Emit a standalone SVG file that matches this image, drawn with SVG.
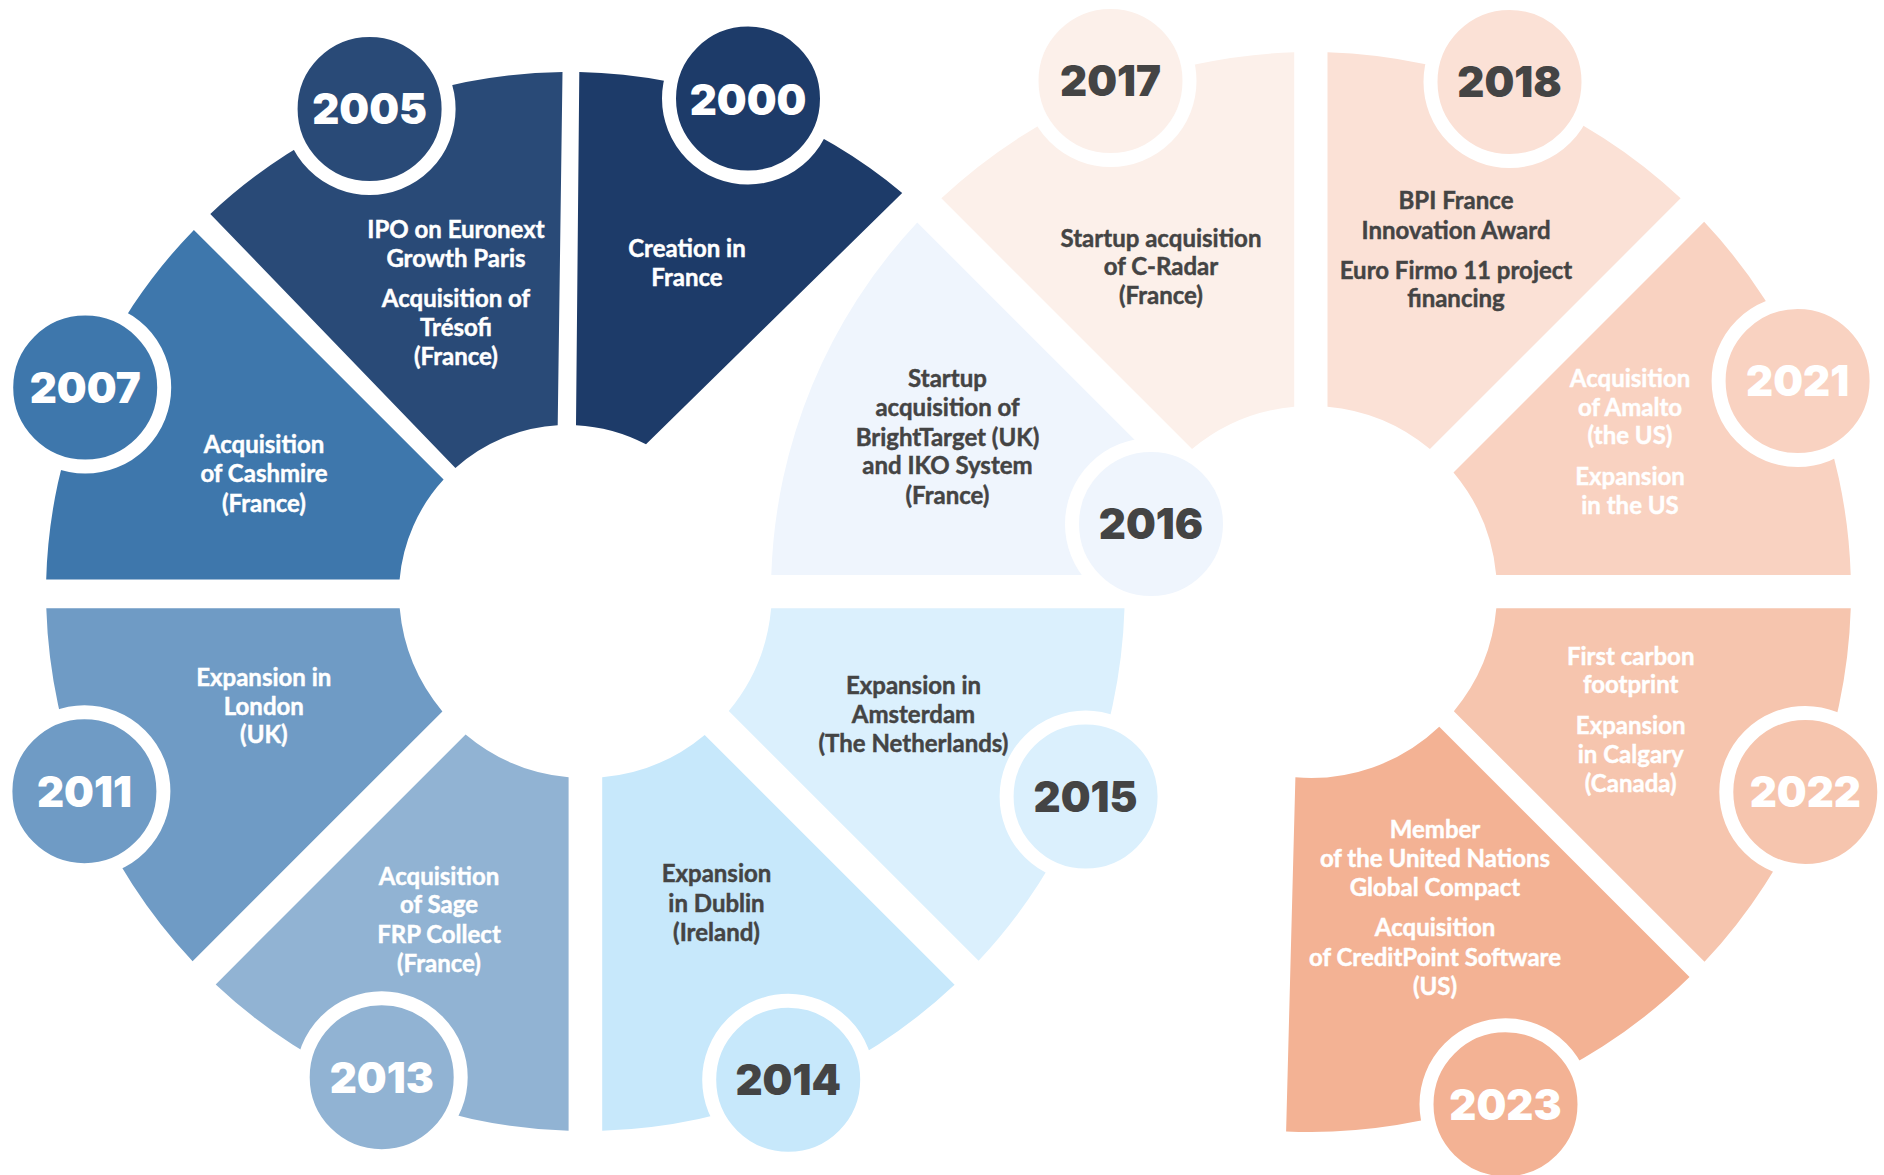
<svg xmlns="http://www.w3.org/2000/svg" width="1884" height="1175" viewBox="0 0 1884 1175">
<style>
.t{font-family:Lato,"Liberation Sans",sans-serif;font-weight:700;font-size:24px;text-anchor:middle;stroke-width:0.45px}
.y{font-family:Inter,"Liberation Sans",sans-serif;font-weight:900;font-size:42px;text-anchor:middle}
.w{fill:#ffffff}
.d{fill:#444444}
.t.w{stroke:#ffffff}
.t.d{stroke:#444444}
.b{stroke:#ffffff;stroke-width:14}
</style>
<rect width="1884" height="1175" fill="#ffffff"/>
<g id="n2000">
<path fill="#1d3b69" d="M579.3 72.1 A522 522 0 0 1 902.2 193 L646 444.3 A169 169 0 0 0 576 425.2 Z"/>
<circle class="b" fill="#1d3b69" cx="748" cy="98.6" r="79"/>
<text class="y w" x="748" y="114.6">2000</text>
<text class="t w" x="687" y="257">Creation in</text>
<text class="t w" x="687" y="286">France</text>
</g>
<g id="n2005">
<path fill="#294a77" d="M210.3 213.9 A522 522 0 0 1 562.5 72 L557.7 425.3 A169 169 0 0 0 455.4 468 Z"/>
<circle class="b" fill="#294a77" cx="369.6" cy="109" r="79"/>
<text class="y w" x="369.6" y="124">2005</text>
<text class="t w" x="456" y="238">IPO on Euronext</text>
<text class="t w" x="456" y="267">Growth Paris</text>
<text class="t w" x="456" y="306.7">Acquisition of</text>
<text class="t w" x="456" y="336">Trésofi</text>
<text class="t w" x="456" y="365">(France)</text>
</g>
<g id="n2007">
<path fill="#3e77ac" d="M46.2 579.5 A522 522 0 0 1 193.9 229.9 L443.6 479.6 A169 169 0 0 0 399.6 579.5 Z"/>
<circle class="b" fill="#3e77ac" cx="85.2" cy="387.6" r="79"/>
<text class="y w" x="85.2" y="403">2007</text>
<text class="t w" x="264" y="453.4">Acquisition</text>
<text class="t w" x="264" y="482.4">of Cashmire</text>
<text class="t w" x="264" y="512">(France)</text>
</g>
<g id="n2011">
<path fill="#6f9bc5" d="M46.3 608.3 L399.7 608.3 A186.5 186.5 0 0 0 442.4 711.4 L192.6 961.2 A539.4 539.4 0 0 1 46.3 608.3 Z"/>
<circle class="b" fill="#6f9bc5" cx="84.4" cy="791.2" r="79"/>
<text class="y w" x="84.4" y="806.6">2011</text>
<text class="t w" x="263.8" y="685.8">Expansion in</text>
<text class="t w" x="263.8" y="714.5">London</text>
<text class="t w" x="263.8" y="743">(UK)</text>
</g>
<g id="n2013">
<path fill="#91b3d3" d="M465.6 734.5 A186.5 186.5 0 0 0 568.6 777.3 L568.6 1130.7 A539.4 539.4 0 0 1 215.7 984.4 Z"/>
<circle class="b" fill="#91b3d3" cx="381.7" cy="1077.2" r="79"/>
<text class="y w" x="381.7" y="1092.6">2013</text>
<text class="t w" x="439" y="885">Acquisition</text>
<text class="t w" x="439" y="913">of Sage</text>
<text class="t w" x="439" y="942.5">FRP Collect</text>
<text class="t w" x="439" y="971.8">(France)</text>
</g>
<g id="n2014">
<path fill="#c7e8fb" d="M602.2 777.3 A186.5 186.5 0 0 0 704.7 734.9 L954.6 984.8 A539.4 539.4 0 0 1 602.2 1130.7 Z"/>
<circle class="b" fill="#c7e8fb" cx="788.2" cy="1079.8" r="79"/>
<text class="y d" x="788.2" y="1095.2">2014</text>
<text class="t d" x="716.5" y="882.3">Expansion</text>
<text class="t d" x="716.5" y="911.6">in Dublin</text>
<text class="t d" x="716.5" y="940.6">(Ireland)</text>
</g>
<g id="n2015">
<path fill="#dbf0fd" d="M771.15 608.3 L1124.5 608.3 A539.4 539.4 0 0 1 978.6 960.8 L728.75 710.95 A186.5 186.5 0 0 0 771.15 608.3 Z"/>
<circle class="b" fill="#dbf0fd" cx="1085.6" cy="796.5" r="79"/>
<text class="y d" x="1085.6" y="811.9">2015</text>
<text class="t d" x="913.5" y="694">Expansion in</text>
<text class="t d" x="913.5" y="723">Amsterdam</text>
<text class="t d" x="913.5" y="751.7">(The Netherlands)</text>
</g>
<g id="n2016">
<path fill="#eff5fd" d="M771.3 575 A540 540 0 0 1 917.25 222.45 L1167.9 473.1 A186 186 0 0 0 1125.8 575 Z"/>
<circle class="b" fill="#eff5fd" cx="1151" cy="524" r="79"/>
<text class="y d" x="1151" y="539.4">2016</text>
<text class="t d" x="947.5" y="386.8">Startup</text>
<text class="t d" x="947.5" y="415.8">acquisition of</text>
<text class="t d" x="947.5" y="445.9">BrightTarget (UK)</text>
<text class="t d" x="947.5" y="474">and IKO System</text>
<text class="t d" x="947.5" y="504">(France)</text>
</g>
<g id="n2017">
<path fill="#fcf0ea" d="M941.35 198.35 A540 540 0 0 1 1294.2 52.26 L1294.2 406.76 A186 186 0 0 0 1192.05 449.05 Z"/>
<circle class="b" fill="#fcf0ea" cx="1110.5" cy="81" r="79"/>
<text class="y d" x="1110.5" y="96.4">2017</text>
<text class="t d" x="1161" y="246.5">Startup acquisition</text>
<text class="t d" x="1161" y="275">of C-Radar</text>
<text class="t d" x="1161" y="304">(France)</text>
</g>
<g id="n2018">
<path fill="#fbe1d6" d="M1327.5 52.25 A540 540 0 0 1 1680.65 198.35 L1429.95 449.05 A186 186 0 0 0 1327.5 406.73 Z"/>
<circle class="b" fill="#fbe1d6" cx="1509.5" cy="82" r="79"/>
<text class="y d" x="1509.5" y="97.4">2018</text>
<text class="t d" x="1456" y="208.8">BPI France</text>
<text class="t d" x="1456" y="239">Innovation Award</text>
<text class="t d" x="1456" y="278.5">Euro Firmo 11 project</text>
<text class="t d" x="1456" y="306.7">financing</text>
</g>
<g id="n2021">
<path fill="#f9d2c1" d="M1453.5 472.5 L1704.15 221.85 A540 540 0 0 1 1850.7 575 L1496.2 575 A186 186 0 0 0 1453.5 472.5 Z"/>
<circle class="b" fill="#f9d2c1" cx="1797.6" cy="381" r="79"/>
<text class="y w" x="1797.6" y="396.4">2021</text>
<text class="t w" x="1630" y="386.8">Acquisition</text>
<text class="t w" x="1630" y="415.8">of Amalto</text>
<text class="t w" x="1630" y="444">(the US)</text>
<text class="t w" x="1630" y="485.4">Expansion</text>
<text class="t w" x="1630" y="513.6">in the US</text>
</g>
<g id="n2022">
<path fill="#f6c5ae" d="M1496.3 608.3 L1850.75 608.3 A540 540 0 0 1 1704.5 961.8 L1453.85 711.15 A186 186 0 0 0 1496.3 608.3 Z"/>
<circle class="b" fill="#f6c5ae" cx="1805.3" cy="792" r="79"/>
<text class="y w" x="1805.3" y="807.4">2022</text>
<text class="t w" x="1630.7" y="664.8">First carbon</text>
<text class="t w" x="1630.7" y="693.4">footprint</text>
<text class="t w" x="1630.7" y="733.6">Expansion</text>
<text class="t w" x="1630.7" y="762.6">in Calgary</text>
<text class="t w" x="1630.7" y="792">(Canada)</text>
</g>
<g id="n2023">
<path fill="#f3b294" d="M1295.4 777.3 A186 186 0 0 0 1439.25 726.75 L1689.55 977.05 A540 540 0 0 1 1286.1 1131.4 Z"/>
<circle class="b" fill="#f3b294" cx="1505.5" cy="1104.3" r="79"/>
<text class="y w" x="1505.5" y="1119.7">2023</text>
<text class="t w" x="1435" y="837.9">Member</text>
<text class="t w" x="1435" y="866.5">of the United Nations</text>
<text class="t w" x="1435" y="895.8">Global Compact</text>
<text class="t w" x="1435" y="935.7">Acquisition</text>
<text class="t w" x="1435" y="965.8">of CreditPoint Software</text>
<text class="t w" x="1435" y="995.2">(US)</text>
</g>
</svg>
